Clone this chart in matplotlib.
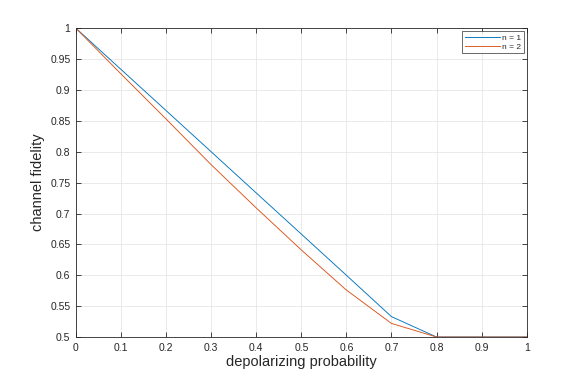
import matplotlib
matplotlib.use("Agg")
import matplotlib.pyplot as plt

p = [0.0, 0.1, 0.2, 0.3, 0.4, 0.5, 0.6, 0.7, 0.8, 0.9, 1.0]
fid_n1 = [1.0, 0.9333, 0.8667, 0.8, 0.7333, 0.6667, 0.6, 0.533, 0.5, 0.5, 0.5]
fid_n2 = [1.0, 0.926, 0.853, 0.779, 0.709, 0.641, 0.576, 0.522, 0.5, 0.5, 0.5]
xticks = [0, 0.1, 0.2, 0.3, 0.4, 0.5, 0.6, 0.7, 0.8, 0.9, 1.0]
xticklabels = ["0", "0.1", "0.2", "0.3", "0.4", "0.5", "0.6", "0.7", "0.8", "0.9", "1"]
yticks = [0.5, 0.55, 0.6, 0.65, 0.7, 0.75, 0.8, 0.85, 0.9, 0.95, 1.0]
yticklabels = ["0.5", "0.55", "0.6", "0.65", "0.7", "0.75", "0.8", "0.85", "0.9", "0.95", "1"]

plt.rcParams['font.family'] = ['Liberation Sans', 'DejaVu Sans']
fig = plt.figure(figsize=(5.81, 3.79), dpi=100)
ax = fig.add_axes([0.1308, 0.1108, 0.7757, 0.8145])
ax.plot(p, fid_n1, color='#0072BD', lw=0.65, label='n = 1')
ax.plot(p, fid_n2, color='#D95319', lw=0.65, label='n = 2')
ax.set_xlim(0, 1)
ax.set_ylim(0.5, 1)
ax.set_xticks(xticks)
ax.set_xticklabels(xticklabels)
ax.set_yticks(yticks)
ax.set_yticklabels(yticklabels)
dark = '#262626'
ax.tick_params(direction='in', top=True, right=True, length=3.5, width=0.6,
               colors=dark, labelsize=7.5, pad=4)
for s in ax.spines.values():
    s.set_color(dark)
    s.set_linewidth(0.6)
ax.grid(True, color='#e6e6e6', lw=0.6)
ax.set_axisbelow(True)
ax.set_xlabel('depolarizing probability', fontsize=10.5, color=dark, labelpad=2)
ax.set_ylabel('channel fidelity', fontsize=10.5, color=dark, labelpad=4)
leg = ax.legend(loc='upper right', fontsize=6, frameon=True, fancybox=False,
                edgecolor=dark, handlelength=4.2, borderaxespad=0.35,
                labelspacing=0.15, handletextpad=0.3, borderpad=0.3)
leg.get_frame().set_linewidth(0.6)
for t in leg.get_texts():
    t.set_color(dark)
fig.savefig('out.png', dpi=100)
